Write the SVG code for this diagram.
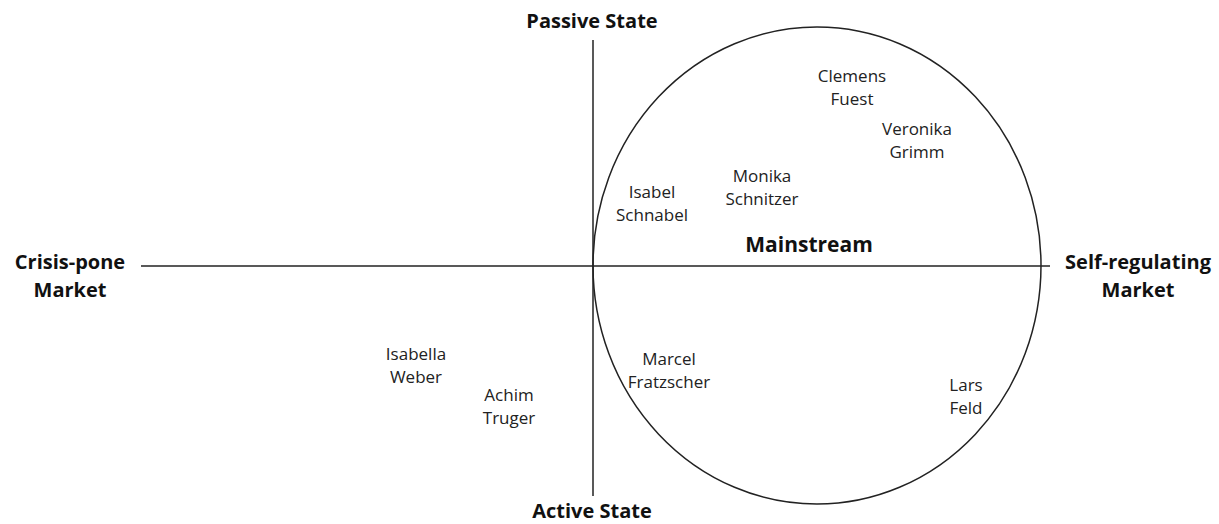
<svg xmlns="http://www.w3.org/2000/svg" width="1219" height="524" viewBox="0 0 1219 524">
<style>
.ax{stroke:#222;stroke-width:1.5;fill:none}
.lb{font-family:"Open Sans","Liberation Sans",sans-serif;font-weight:bold;font-size:20px;fill:#111;text-anchor:middle}
.nm{font-family:"Open Sans","Liberation Sans",sans-serif;font-size:17px;fill:#222;text-anchor:middle}
.ms{font-family:"Open Sans","Liberation Sans",sans-serif;font-weight:bold;font-size:21px;fill:#111;text-anchor:middle}
</style>
<rect width="1219" height="524" fill="#fff"/>
<g id="connectors">
<line class="ax" x1="593" y1="40" x2="593" y2="496"/>
<line class="ax" x1="141" y1="266" x2="1050" y2="266"/>
</g>
<g id="mainstream">
<ellipse class="ax" cx="817" cy="265.5" rx="224" ry="238.5"/>
<text class="ms" x="809" y="252">Mainstream</text>
</g>
<g id="passive-state"><text class="lb" x="592" y="28">Passive State</text></g>
<g id="active-state"><text class="lb" x="592" y="518">Active State</text></g>
<g id="crisis-prone"><text class="lb" x="70" y="269">Crisis-pone</text><text class="lb" x="70" y="297">Market</text></g>
<g id="self-regulating"><text class="lb" x="1138" y="269">Self-regulating</text><text class="lb" x="1138" y="297">Market</text></g>
<g id="isabel-schnabel"><text class="nm" x="652" y="198">Isabel</text><text class="nm" x="652" y="221">Schnabel</text></g>
<g id="monika-schnitzer"><text class="nm" x="762" y="182">Monika</text><text class="nm" x="762" y="205">Schnitzer</text></g>
<g id="clemens-fuest"><text class="nm" x="852" y="82">Clemens</text><text class="nm" x="852" y="105">Fuest</text></g>
<g id="veronika-grimm"><text class="nm" x="917" y="135">Veronika</text><text class="nm" x="917" y="158">Grimm</text></g>
<g id="isabella-weber"><text class="nm" x="416" y="360">Isabella</text><text class="nm" x="416" y="383">Weber</text></g>
<g id="achim-truger"><text class="nm" x="509" y="401">Achim</text><text class="nm" x="509" y="424">Truger</text></g>
<g id="marcel-fratzscher"><text class="nm" x="669" y="365">Marcel</text><text class="nm" x="669" y="388">Fratzscher</text></g>
<g id="lars-feld"><text class="nm" x="966" y="391">Lars</text><text class="nm" x="966" y="414">Feld</text></g>
</svg>
